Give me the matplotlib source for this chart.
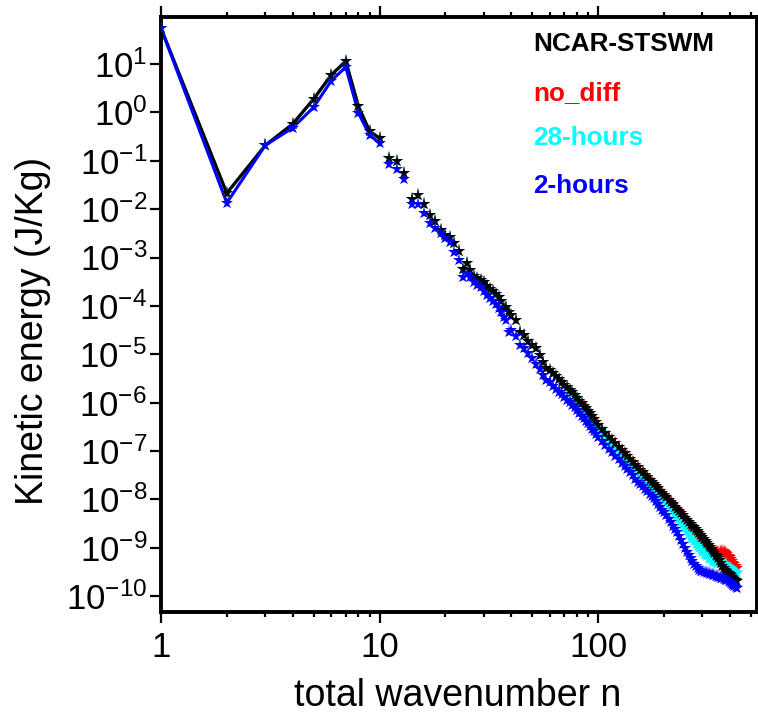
import matplotlib
matplotlib.use("Agg")
import matplotlib.pyplot as plt
import matplotlib.ticker as mticker
import numpy as np

plt.rcParams['font.family'] = ['Liberation Sans', 'DejaVu Sans']
plt.rcParams['mathtext.default'] = 'regular'

wavenumber = list(range(1, 41)) + list(range(42, 101, 2)) + list(range(104, 201, 4)) + list(range(205, 431, 5))

# log10 of kinetic energy (J/Kg)
ke_ncar_log = [
    1.74, -1.67, -0.68, -0.24, 0.28, 0.77, 1.06, 0.13, -0.39, -0.53,
    -0.94, -1.00, -1.25, -1.79, -1.71, -1.89, -2.12, -2.25, -2.43, -2.54,
    -2.58, -2.70, -2.86, -3.24, -3.11, -3.25, -3.38, -3.43, -3.46, -3.51,
    -3.58, -3.65, -3.70, -3.76, -3.82, -3.90, -4.05, -4.02, -4.12, -4.18,
    -4.30, -4.54, -4.60, -4.72, -4.81, -4.87, -5.02, -5.15, -5.29, -5.33,
    -5.39, -5.45, -5.52, -5.58, -5.64, -5.68, -5.74, -5.79, -5.85, -5.90,
    -5.96, -6.01, -6.07, -6.11, -6.17, -6.22, -6.27, -6.33, -6.39, -6.46,
    -6.54, -6.62, -6.70, -6.77, -6.84, -6.91, -6.97, -7.04, -7.10, -7.16,
    -7.22, -7.28, -7.33, -7.39, -7.44, -7.49, -7.54, -7.59, -7.64, -7.68,
    -7.73, -7.77, -7.82, -7.86, -7.91,
    -7.96, -8.01, -8.06, -8.10, -8.15, -8.20, -8.24, -8.29, -8.33, -8.38,
    -8.42, -8.46, -8.50, -8.54, -8.58, -8.62, -8.66, -8.70, -8.74, -8.78,
    -8.82, -8.86, -8.90, -8.94, -8.98, -9.02, -9.06, -9.10, -9.14, -9.18,
    -9.22, -9.26, -9.32, -9.38, -9.42, -9.45, -9.48, -9.50, -9.52, -9.55,
    -9.57, -9.60, -9.62, -9.64, -9.66, -9.68,
]
ke_nodiff_log = [
    1.74, -1.67, -0.68, -0.24, 0.28, 0.77, 1.06, 0.13, -0.39, -0.53,
    -0.94, -1.00, -1.25, -1.79, -1.71, -1.89, -2.12, -2.25, -2.43, -2.54,
    -2.58, -2.70, -2.86, -3.24, -3.11, -3.25, -3.38, -3.43, -3.46, -3.51,
    -3.58, -3.65, -3.70, -3.76, -3.82, -3.90, -4.05, -4.02, -4.12, -4.18,
    -4.30, -4.54, -4.60, -4.72, -4.81, -4.87, -5.02, -5.15, -5.29, -5.33,
    -5.39, -5.45, -5.52, -5.58, -5.64, -5.68, -5.74, -5.79, -5.85, -5.90,
    -5.96, -6.01, -6.07, -6.11, -6.17, -6.22, -6.27, -6.33, -6.39, -6.46,
    -6.54, -6.62, -6.70, -6.77, -6.84, -6.91, -6.97, -7.04, -7.10, -7.16,
    -7.22, -7.28, -7.33, -7.39, -7.44, -7.49, -7.54, -7.59, -7.64, -7.68,
    -7.73, -7.77, -7.82, -7.86, -7.91,
    -7.97, -8.02, -8.07, -8.12, -8.17, -8.22, -8.27, -8.32, -8.37, -8.43,
    -8.48, -8.53, -8.58, -8.63, -8.68, -8.73, -8.78, -8.83, -8.88, -8.93,
    -8.96, -8.99, -9.01, -9.03, -9.04, -9.05, -9.06, -9.07, -9.07, -9.08,
    -9.08, -9.08, -9.07, -9.06, -9.07, -9.09, -9.11, -9.13, -9.16, -9.19,
    -9.23, -9.27, -9.31, -9.34, -9.38, -9.41,
]
ke_28h_log = [
    1.74, -1.67, -0.68, -0.24, 0.28, 0.77, 1.06, 0.13, -0.39, -0.53,
    -0.94, -1.00, -1.25, -1.79, -1.71, -1.89, -2.12, -2.25, -2.43, -2.54,
    -2.58, -2.70, -2.86, -3.24, -3.11, -3.25, -3.38, -3.43, -3.46, -3.51,
    -3.58, -3.65, -3.70, -3.76, -3.82, -3.90, -4.05, -4.02, -4.12, -4.18,
    -4.30, -4.54, -4.60, -4.72, -4.81, -4.87, -5.02, -5.15, -5.29, -5.33,
    -5.39, -5.45, -5.52, -5.58, -5.64, -5.70, -5.77, -5.82, -5.89, -5.94,
    -6.00, -6.06, -6.12, -6.16, -6.23, -6.28, -6.33, -6.40, -6.46, -6.53,
    -6.61, -6.69, -6.78, -6.85, -6.92, -6.99, -7.06, -7.13, -7.19, -7.25,
    -7.31, -7.37, -7.43, -7.48, -7.54, -7.59, -7.64, -7.69, -7.74, -7.79,
    -7.84, -7.89, -7.93, -7.98, -8.01,
    -8.05, -8.11, -8.17, -8.23, -8.29, -8.35, -8.41, -8.47, -8.53, -8.59,
    -8.65, -8.71, -8.77, -8.82, -8.87, -8.92, -8.97, -9.01, -9.05, -9.09,
    -9.12, -9.15, -9.18, -9.21, -9.23, -9.25, -9.27, -9.29, -9.30, -9.31,
    -9.32, -9.32, -9.32, -9.32, -9.33, -9.34, -9.35, -9.37, -9.39, -9.41,
    -9.43, -9.45, -9.47, -9.49, -9.51, -9.53,
]
ke_2h_log = [
    1.74, -1.87, -0.68, -0.32, 0.11, 0.65, 0.94, -0.01, -0.47, -0.63,
    -1.07, -1.17, -1.38, -1.89, -1.89, -2.08, -2.29, -2.39, -2.49, -2.60,
    -2.68, -2.89, -3.05, -3.40, -3.33, -3.40, -3.50, -3.56, -3.61, -3.70,
    -3.78, -3.84, -3.90, -3.97, -4.05, -4.12, -4.23, -4.30, -4.54, -4.50,
    -4.62, -4.80, -4.88, -4.98, -5.08, -5.20, -5.30, -5.42, -5.53, -5.58,
    -5.65, -5.72, -5.78, -5.83, -5.89, -5.94, -5.99, -6.05, -6.10, -6.16,
    -6.21, -6.27, -6.32, -6.37, -6.43, -6.49, -6.54, -6.59, -6.65, -6.71,
    -6.80, -6.88, -6.96, -7.03, -7.10, -7.17, -7.24, -7.31, -7.38, -7.44,
    -7.50, -7.57, -7.63, -7.68, -7.73, -7.78, -7.83, -7.88, -7.93, -7.98,
    -8.03, -8.09, -8.15, -8.21, -8.27,
    -8.33, -8.40, -8.47, -8.54, -8.61, -8.68, -8.76, -8.84, -8.92, -9.00,
    -9.08, -9.15, -9.22, -9.28, -9.34, -9.38, -9.42, -9.45, -9.47, -9.48,
    -9.50, -9.51, -9.52, -9.53, -9.54, -9.55, -9.56, -9.57, -9.58, -9.59,
    -9.60, -9.61, -9.62, -9.63, -9.64, -9.65, -9.66, -9.67, -9.68, -9.70,
    -9.72, -9.74, -9.77, -9.79, -9.81, -9.83,
]

labels = ["NCAR-STSWM", "no_diff", "28-hours", "2-hours"]
colors = ["black", "red", "cyan", "blue"]

n = np.array(wavenumber)
ke = {
    "NCAR-STSWM": 10.0 ** np.array(ke_ncar_log),
    "no_diff": 10.0 ** np.array(ke_nodiff_log),
    "28-hours": 10.0 ** np.array(ke_28h_log),
    "2-hours": 10.0 ** np.array(ke_2h_log),
}

fig = plt.figure(figsize=(7.58, 7.2), dpi=100)
ax = fig.add_axes([0.2124, 0.15, 0.7863, 0.8264])

# lines only join the first ten wavenumbers
first = n <= 10
draw_order = ["no_diff", "28-hours", "NCAR-STSWM", "2-hours"]
for name in draw_order:
    c = colors[labels.index(name)]
    ax.plot(n[first], ke[name][first], color=c, lw=2.2, zorder=2)
    ax.plot(n, ke[name], ls="none", marker="*", ms=9.5, mew=0, color=c, zorder=3)

ax.set_xscale("log")
ax.set_yscale("log")
ax.set_xlim(1, 533)
ax.set_ylim(4.7e-11, 94)

ax.xaxis.set_major_locator(mticker.LogLocator(base=10, numticks=10))
ax.xaxis.set_major_formatter(mticker.FuncFormatter(lambda v, p: "%d" % v))
ax.xaxis.set_minor_locator(mticker.LogLocator(base=10, subs=np.arange(2, 10), numticks=20))
ax.xaxis.set_minor_formatter(mticker.NullFormatter())
ax.yaxis.set_major_locator(mticker.LogLocator(base=10, numticks=20))
ax.yaxis.set_minor_locator(mticker.NullLocator())

ax.tick_params(which="both", direction="out", top=True, right=True, width=1.6)
ax.tick_params(which="major", length=8, labelsize=25)
ax.tick_params(which="minor", length=3.6)
ax.tick_params(axis="x", which="major", pad=6)
ax.tick_params(axis="y", which="major", pad=2)
for s in ax.spines.values():
    s.set_linewidth(2.8)

ax.set_xlabel("total wavenumber n", fontsize=27)
ax.set_ylabel("Kinetic energy (J/Kg)", fontsize=27)
ax.xaxis.set_label_coords(0.497, -0.111)
ax.yaxis.set_label_coords(-0.185, 0.472)

# coloured text key in the upper right
ypos = [0.955, 0.872, 0.797, 0.716]
for lab, c, y in zip(labels, colors, ypos):
    ax.text(0.624, y, lab, color=c, fontsize=18.8, fontweight="bold",
            transform=ax.transAxes, ha="left", va="center")

fig.savefig("out.png", dpi=100)
